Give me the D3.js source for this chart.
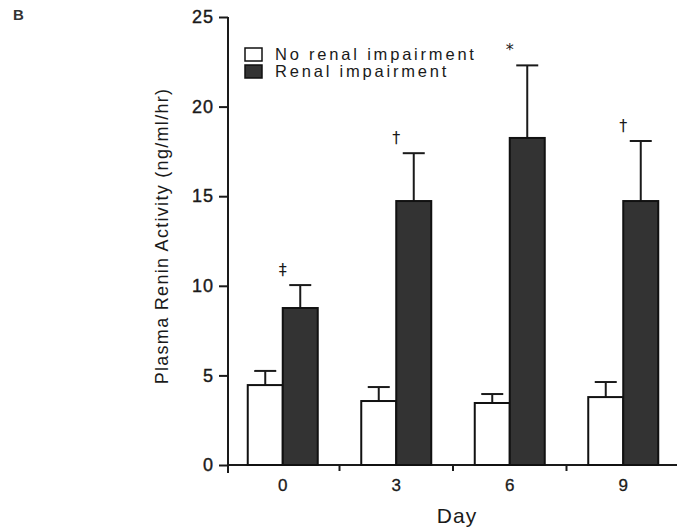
<!DOCTYPE html>
<html>
<head>
<meta charset="utf-8">
<script src="https://cdn.jsdelivr.net/npm/d3@7"></script>
<style>
  body { margin: 0; background: #fff; }
  text { font-family: "Liberation Sans", Arial, sans-serif; fill: #1a1a1a; }
</style>
</head>
<body>
<div id="chart"></div>
<script>
// data
const days = ["0", "3", "6", "9"]
const seriesNames = ["No renal impairment", "Renal impairment"]
const noImpairment = [4.46, 3.57, 3.46, 3.79]
const noImpairmentErr = [0.79, 0.78, 0.5, 0.84]
const impairment = [8.76, 14.73, 18.25, 14.73]
const impairmentErr = [1.28, 2.67, 4.05, 3.35]
const marks = ["‡", "†", "*", "†"]
const yTicks = [0, 5, 10, 15, 20, 25]

const width = 677
const height = 529
const colors = ["#ffffff", "#333333"]

const svg = d3.select("#chart").append("svg")
              .attr("width", width)
              .attr("height", height)

// scales
const yScale = d3.scaleLinear()
                 .domain([0, 25])
                 .range([465, 17])
const xScale = d3.scaleBand()
                 .domain(days)
                 .range([226, 680])
const subScale = d3.scaleBand()
                   .domain(seriesNames)
                   .range([-35, 35])

// panel letter
svg.append("text")
   .attr("x", 13)
   .attr("y", 20)
   .attr("font-size", "15px")
   .attr("font-weight", "bold")
   .style("fill", "#333")
   .text("B")

// y axis
const yAxis = d3.axisLeft(yScale)
                .tickValues(yTicks)
                .tickSize(9)
                .tickPadding(5)
const yG = svg.append("g")
              .attr("transform", "translate(228, 0)")
              .call(yAxis)
yG.select(".domain").remove()
yG.append("line")
  .attr("y1", yScale(25))
  .attr("y2", yScale(0) + 8)
  .attr("stroke", "#1a1a1a")
  .attr("stroke-width", 2)
yG.selectAll(".tick line").attr("stroke", "#1a1a1a").attr("stroke-width", 2)
yG.selectAll(".tick text")
  .attr("font-size", "18px")
  .attr("letter-spacing", "1px")
  .attr("fill", "#1a1a1a")
  .attr("stroke", "#1a1a1a")
  .attr("stroke-width", 0.4)

// x axis: labels at band centers, ticks at band boundaries
const xAxis = d3.axisBottom(xScale).tickSize(0).tickPadding(14)
const xG = svg.append("g")
              .attr("transform", `translate(0, ${yScale(0)})`)
              .call(xAxis)
xG.select(".domain").remove()
xG.selectAll(".tick text")
  .attr("font-size", "17px")
  .attr("fill", "#1a1a1a")
  .attr("stroke", "#1a1a1a")
  .attr("stroke-width", 0.3)
xG.append("line")
  .attr("x1", 228)
  .attr("x2", width)
  .attr("stroke", "#1a1a1a")
  .attr("stroke-width", 2)
xG.selectAll(".sep")
  .data(days.slice(1))
  .join("line")
  .attr("x1", d => xScale(d))
  .attr("x2", d => xScale(d))
  .attr("y1", 0)
  .attr("y2", 6)
  .attr("stroke", "#1a1a1a")
  .attr("stroke-width", 2)

// axis titles
svg.append("text")
   .attr("x", 457)
   .attr("y", 523)
   .attr("text-anchor", "middle")
   .attr("font-size", "21px")
   .attr("letter-spacing", "1px")
   .text("Day")
svg.append("text")
   .attr("transform", "translate(168, 236) rotate(-90)")
   .attr("text-anchor", "middle")
   .attr("font-size", "18px")
   .attr("letter-spacing", "1.3px")
   .text("Plasma Renin Activity (ng/ml/hr)")

// bars
const rows = days.map((d, i) => ({
    day: d,
    values: [
        {name: seriesNames[0], value: noImpairment[i], err: noImpairmentErr[i], color: colors[0]},
        {name: seriesNames[1], value: impairment[i], err: impairmentErr[i], color: colors[1]}
    ],
    mark: marks[i]
}))

const groups = svg.append("g")
                  .selectAll("g")
                  .data(rows)
                  .join("g")
                  .attr("transform", d => `translate(${xScale(d.day) + xScale.bandwidth() / 2}, 0)`)

// error bars (upper only), drawn under the bars
groups.selectAll(".err")
      .data(d => d.values)
      .join("g")
      .each(function(d) {
          const cx = subScale(d.name) + subScale.bandwidth() / 2
          const g = d3.select(this)
          g.append("line")
           .attr("x1", cx).attr("x2", cx)
           .attr("y1", yScale(d.value))
           .attr("y2", yScale(d.value + d.err))
           .attr("stroke", "#1a1a1a")
           .attr("stroke-width", 2)
          g.append("line")
           .attr("x1", cx - 11).attr("x2", cx + 11)
           .attr("y1", yScale(d.value + d.err))
           .attr("y2", yScale(d.value + d.err))
           .attr("stroke", "#1a1a1a")
           .attr("stroke-width", 2)
      })

groups.selectAll("rect")
      .data(d => d.values)
      .join("rect")
      .attr("x", d => subScale(d.name))
      .attr("y", d => yScale(d.value))
      .attr("width", subScale.bandwidth())
      .attr("height", d => yScale(0) - yScale(d.value))
      .attr("fill", d => d.color)
      .attr("stroke", "#111")
      .attr("stroke-width", 2)

// significance marks
groups.append("text")
      .attr("x", d => subScale(seriesNames[1]))
      .attr("y", d => yScale(d.values[1].value + d.values[1].err) - 10)
      .attr("text-anchor", "middle")
      .attr("font-size", "16px")
      .style("font-family", "'DejaVu Sans', sans-serif")
      .style("fill", "#1a1a1a")
      .text(d => d.mark)

// legend
const legend = svg.append("g")
                  .attr("transform", "translate(245, 48)")
const legendItems = legend.selectAll("g")
                          .data(seriesNames)
                          .join("g")
                          .attr("transform", (d, i) => `translate(0, ${i * 17})`)
legendItems.append("rect")
           .attr("width", 17)
           .attr("height", 13)
           .attr("fill", (d, i) => colors[i])
           .attr("stroke", "#111")
           .attr("stroke-width", 1.5)
legendItems.append("text")
           .attr("x", 30)
           .attr("y", 12)
           .attr("font-size", "16.5px")
           .attr("letter-spacing", "2.8px")
           .text(d => d)
</script>
</body>
</html>
